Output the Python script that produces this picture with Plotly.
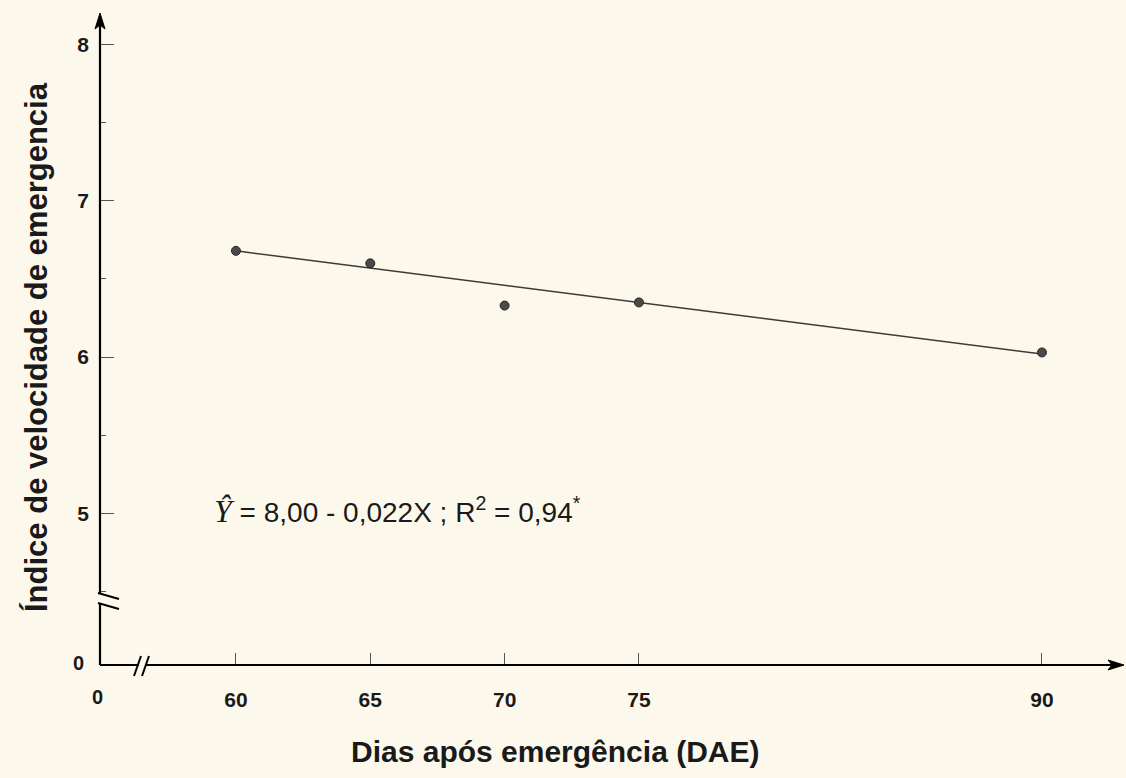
import plotly.graph_objects as go

# ---------------- data ----------------
dae = [60, 65, 70, 75, 90]                 # Dias após emergência
ive = [6.68, 6.60, 6.33, 6.35, 6.03]       # Índice de velocidade de emergência
b0, b1 = 8.00, -0.022                      # fitted equation from the chart
fit_x = [60, 90]
fit_y = [b0 + b1 * v for v in fit_x]

x_ticks = [60, 65, 70, 75, 90]
y_ticks = [5, 6, 7, 8]
y_minor = [4.5, 5.5, 6.5, 7.5]

# ---------------- layout geometry (pixels) ----------------
W, H = 1126, 778
L, R, T, B = 100, 8, 18, 113
PW, PH = W - L - R, H - T - B


def px(x):
    return (x - L) / PW


def py(y):
    return (H - B - y) / PH


BG = "#fcf9ec"
FONT = "Liberation Sans, Arial, sans-serif"
TXT = "#1a1a1a"

fig = go.Figure()

fig.add_trace(go.Scatter(
    x=fit_x, y=fit_y, mode="lines",
    line=dict(color="#3a3a3a", width=1.5), hoverinfo="skip", showlegend=False))

fig.add_trace(go.Scatter(
    x=dae, y=ive, mode="markers",
    marker=dict(size=9, color="#4a4a4a", line=dict(color="#222222", width=1)),
    showlegend=False))

shapes = []
line_style = dict(color="black", width=2.2)
# y axis (with break)
shapes.append(dict(type="line", xref="paper", yref="paper", x0=0, x1=0, y0=0, y1=py(604), line=line_style))
shapes.append(dict(type="line", xref="paper", yref="paper", x0=0, x1=0, y0=py(594), y1=py(24), line=line_style))
# y break marks
for y0 in (593, 603):
    shapes.append(dict(type="line", xref="paper", yref="paper",
                       x0=px(98), y0=py(y0), x1=px(119), y1=py(y0 + 6), line=dict(color="black", width=2)))
# x axis (with break)
shapes.append(dict(type="line", xref="paper", yref="paper", x0=0, x1=px(139), y0=0, y1=0, line=line_style))
shapes.append(dict(type="line", xref="paper", yref="paper", x0=px(146), x1=px(1116), y0=0, y1=0, line=line_style))
# x break marks
for x0 in (134, 142):
    shapes.append(dict(type="line", xref="paper", yref="paper",
                       x0=px(x0), y0=py(676), x1=px(x0 + 7), y1=py(656), line=dict(color="black", width=2)))
# arrow heads
shapes.append(dict(type="path", xref="paper", yref="paper",
                   path=f"M {px(100)} {py(13)} L {px(95)} {py(29)} L {px(100)} {py(25)} L {px(105)} {py(29)} Z",
                   fillcolor="black", line=dict(color="black", width=1)))
shapes.append(dict(type="path", xref="paper", yref="paper",
                   path=f"M {px(1124)} {py(665)} L {px(1108)} {py(660)} L {px(1112)} {py(665)} L {px(1108)} {py(670)} Z",
                   fillcolor="black", line=dict(color="black", width=1)))

annotations = [
    # zero labels
    dict(xref="paper", yref="paper", x=px(86), y=py(663), xanchor="right", yanchor="middle",
         text="0", showarrow=False, font=dict(family=FONT, size=20, color=TXT, weight="bold")),
    dict(xref="paper", yref="paper", x=px(97), y=py(697), xanchor="center", yanchor="middle",
         text="0", showarrow=False, font=dict(family=FONT, size=20, color=TXT, weight="bold")),
    # axis titles
    dict(xref="paper", yref="paper", x=px(555), y=py(751), xanchor="center", yanchor="middle",
         text="Dias após emergência (DAE)", showarrow=False,
         font=dict(family=FONT, size=30, color=TXT, weight="bold")),
    dict(xref="paper", yref="paper", x=px(36), y=py(347), xanchor="center", yanchor="middle",
         text="Índice de velocidade de emergencia", textangle=-90, showarrow=False,
         font=dict(family=FONT, size=31, color=TXT, weight="bold")),
    # equation
    dict(xref="paper", yref="paper", x=px(212), y=py(510), xanchor="left", yanchor="middle",
         text="<span style='font-family:Liberation Serif, Times New Roman, serif;font-style:italic;font-size:32px'>Ŷ</span>"
              " = 8,00 - 0,022X ; R<sup>2</sup> = 0,94<sup>*</sup>",
         showarrow=False, font=dict(family=FONT, size=28, color=TXT)),
]

fig.update_layout(
    width=W, height=H,
    margin=dict(l=L, r=R, t=T, b=B, pad=0),
    paper_bgcolor=BG, plot_bgcolor=BG,
    shapes=shapes, annotations=annotations,
    xaxis=dict(
        range=[54.94, 92.83], showgrid=False, zeroline=False, showline=False,
        tickmode="array", tickvals=x_ticks, ticks="inside", ticklen=12, tickwidth=1,
        tickcolor="#555555", ticklabelstandoff=20,
        tickfont=dict(family=FONT, size=21, color=TXT, weight="bold"),
    ),
    yaxis=dict(
        range=[4.03, 8.17], showgrid=False, zeroline=False, showline=False,
        tickmode="array", tickvals=y_ticks, ticks="inside", ticklen=14, tickwidth=1,
        tickcolor="#555555", ticklabelstandoff=10,
        tickfont=dict(family=FONT, size=21, color=TXT, weight="bold"),
        minor=dict(tickmode="array", tickvals=y_minor, ticks="inside", ticklen=6,
                   tickwidth=1, tickcolor="#555555"),
    ),
)

fig.write_html("out.html", config={"displayModeBar": False},
               post_script="document.body.style.margin='0';document.body.style.background='" + BG + "';")
